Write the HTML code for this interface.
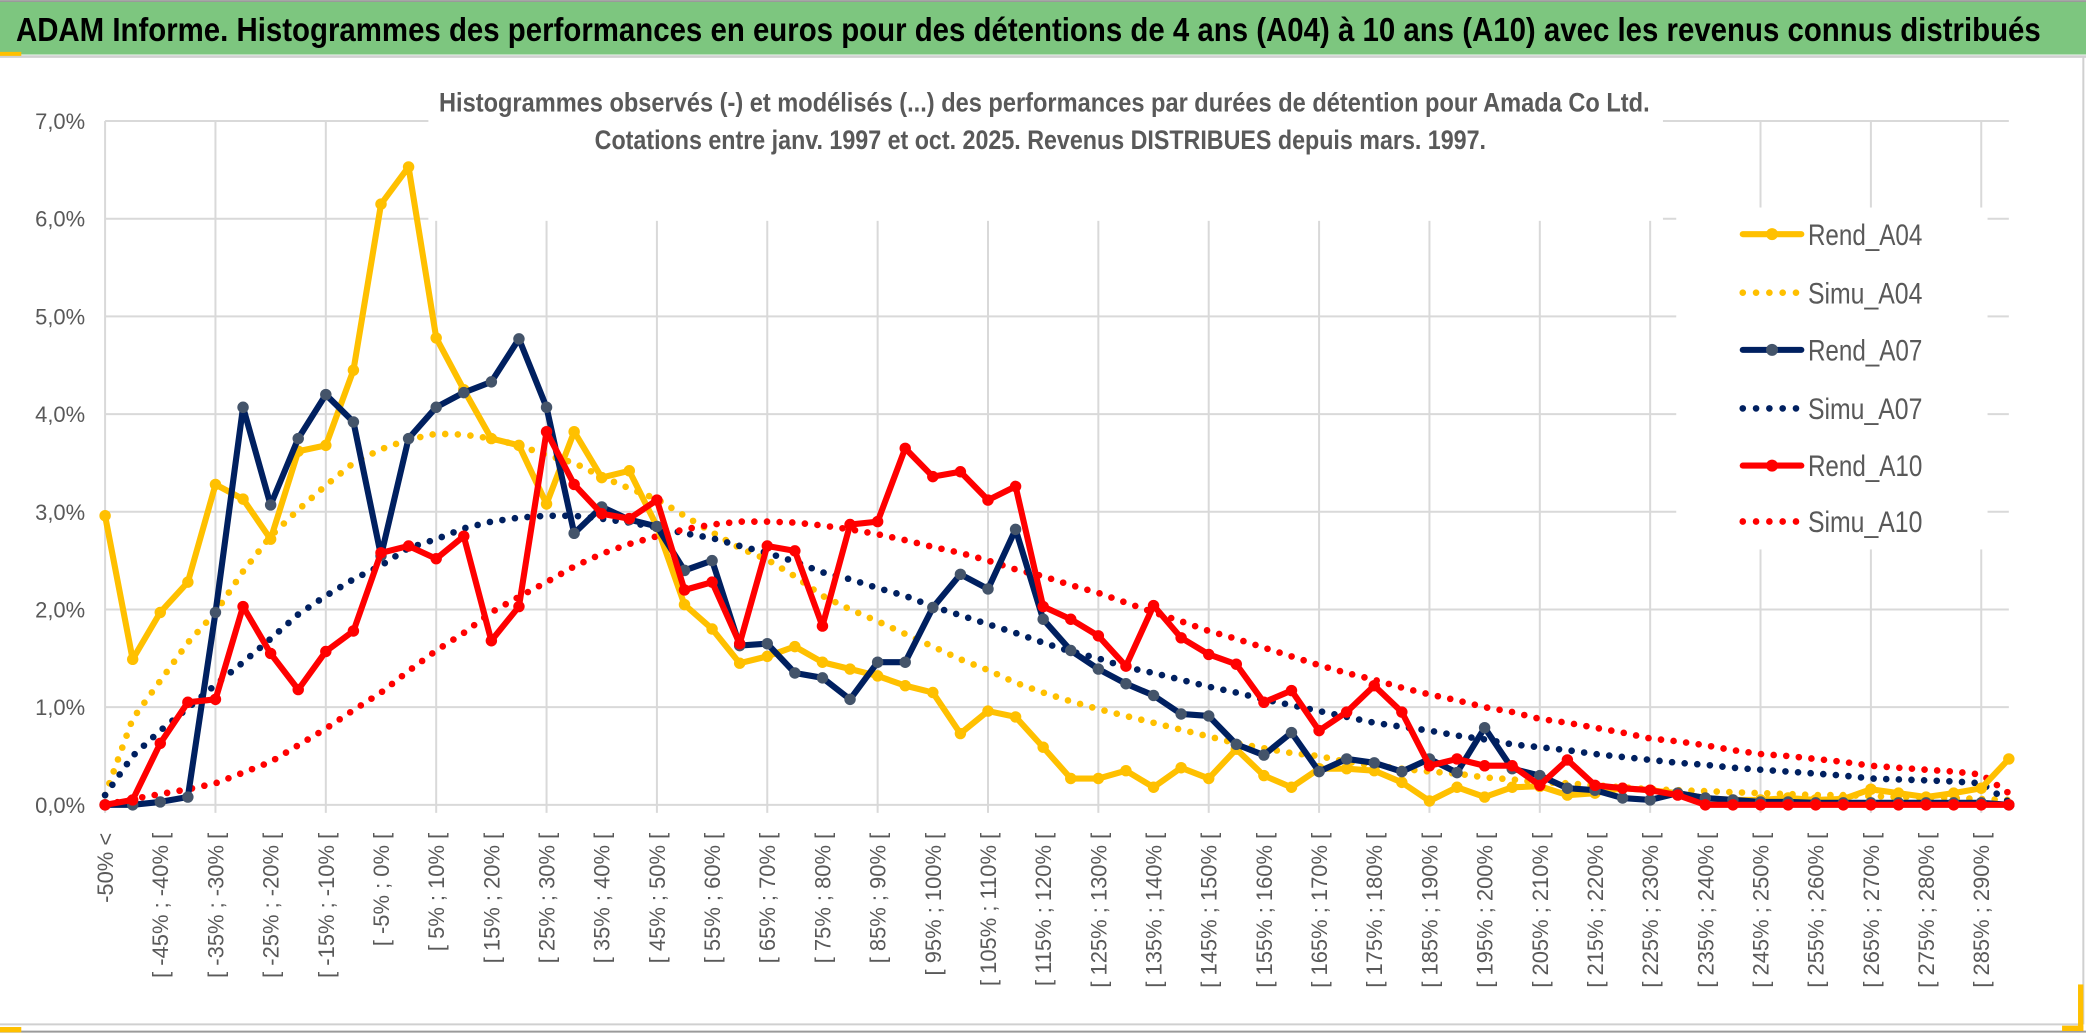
<!DOCTYPE html>
<html>
<head>
<meta charset="utf-8">
<style>
html,body{margin:0;padding:0;background:#fff;}
svg{display:block;}
text{font-family:"Liberation Sans",sans-serif;}
</style>
</head>
<body>
<svg id="chart" width="2086" height="1033" viewBox="0 0 1568 776.5" preserveAspectRatio="none" xmlns="http://www.w3.org/2000/svg">
  <rect x="0" y="0" width="1568" height="776.5" fill="#ffffff"/>
  <rect x="0" y="1" width="1568" height="40" fill="#7DC67F"/>
  <line x1="0" y1="0.8" x2="1568" y2="0.8" stroke="#9a9a9a" stroke-width="1.5"/>
  <line x1="0" y1="42.5" x2="1568" y2="42.5" stroke="#d0d0d0" stroke-width="2"/>
  <rect x="0" y="39" width="16" height="3" fill="#FFC000"/>
  <text x="12" y="31" font-size="25" font-weight="bold" fill="#000" textLength="1522" lengthAdjust="spacingAndGlyphs">ADAM Informe. Histogrammes des performances en euros pour des détentions de 4 ans (A04) à 10 ans (A10) avec les revenus connus distribués</text>
  <line x1="1566" y1="43" x2="1566" y2="770" stroke="#d0d0d0" stroke-width="1.5"/>
  <line x1="0" y1="770" x2="1566" y2="770" stroke="#d0d0d0" stroke-width="1.5"/>
  <line x1="0" y1="775.5" x2="1568" y2="775.5" stroke="#9a9a9a" stroke-width="1.5"/>
  <rect x="0" y="772" width="16" height="4" fill="#FFC000"/>
  <rect x="1562" y="740" width="4" height="35" fill="#FFC000"/>
  <rect x="1550" y="771" width="16" height="4" fill="#FFC000"/>
  <g id="grid"></g>
  <rect x="322" y="50" width="928" height="116" fill="#ffffff"/>
  <text x="785" y="84" font-size="20" font-weight="bold" fill="#595959" text-anchor="middle" textLength="910" lengthAdjust="spacingAndGlyphs">Histogrammes observés (-) et modélisés (...) des performances par durées de détention pour Amada Co Ltd.</text>
  <text x="782" y="112" font-size="20" font-weight="bold" fill="#595959" text-anchor="middle" textLength="670" lengthAdjust="spacingAndGlyphs">Cotations entre janv. 1997 et oct. 2025. Revenus DISTRIBUES depuis mars. 1997.</text>
  <g id="axes"></g>
  <g id="series"></g>
  <g id="legend"></g>
</svg>
<script>
const categories = ["-50% <"];
for (let k = -50; k <= 290; k += 5) categories.push("[ " + k + "% ; " + (k + 5) + "% [");
const yTicks = [0, 1, 2, 3, 4, 5, 6, 7];
const yTickLabels = ["0,0%", "1,0%", "2,0%", "3,0%", "4,0%", "5,0%", "6,0%", "7,0%"];
const seriesNames = ["Rend_A04", "Simu_A04", "Rend_A07", "Simu_A07", "Rend_A10", "Simu_A10"];
const rendA04 = [2.96,1.49,1.97,2.28,3.28,3.13,2.72,3.62,3.68,4.45,6.15,6.53,4.78,4.25,3.75,3.68,3.08,3.82,3.35,3.42,2.85,2.05,1.8,1.45,1.52,1.62,1.46,1.39,1.32,1.22,1.15,0.73,0.96,0.9,0.59,0.27,0.27,0.35,0.18,0.38,0.27,0.57,0.3,0.18,0.37,0.37,0.35,0.23,0.04,0.18,0.08,0.18,0.19,0.1,0.12,0.17,0.15,0.12,0.07,0.05,0.05,0.07,0.05,0.06,0.16,0.12,0.08,0.12,0.17,0.47];
const simuA04 = [0.1,0.88,1.27,1.66,1.97,2.39,2.75,3.02,3.27,3.5,3.64,3.74,3.8,3.79,3.75,3.68,3.58,3.5,3.36,3.24,3.13,2.96,2.79,2.63,2.51,2.34,2.14,2.0,1.88,1.75,1.62,1.49,1.38,1.25,1.15,1.06,0.98,0.91,0.84,0.77,0.7,0.63,0.58,0.53,0.5,0.44,0.4,0.37,0.34,0.32,0.28,0.26,0.23,0.22,0.2,0.18,0.16,0.15,0.14,0.13,0.12,0.11,0.1,0.1,0.09,0.08,0.08,0.07,0.06,0.05];
const rendA07 = [0,0,0.03,0.08,1.97,4.07,3.07,3.75,4.2,3.92,2.55,3.75,4.07,4.22,4.33,4.77,4.07,2.78,3.05,2.92,2.85,2.4,2.5,1.63,1.65,1.35,1.3,1.08,1.46,1.46,2.02,2.36,2.21,2.82,1.9,1.58,1.39,1.24,1.12,0.93,0.91,0.62,0.51,0.74,0.34,0.47,0.43,0.34,0.47,0.33,0.79,0.37,0.3,0.17,0.15,0.07,0.05,0.12,0.07,0.05,0.03,0.03,0.02,0.02,0.02,0.02,0.02,0.02,0.02,0];
const simuA07 = [0.1,0.5,0.76,0.99,1.23,1.46,1.7,1.95,2.14,2.31,2.45,2.63,2.72,2.83,2.9,2.94,2.96,2.96,2.93,2.89,2.84,2.78,2.73,2.65,2.58,2.49,2.38,2.31,2.22,2.14,2.03,1.94,1.85,1.76,1.66,1.57,1.5,1.41,1.35,1.28,1.21,1.15,1.08,1.02,0.96,0.9,0.84,0.8,0.76,0.71,0.67,0.62,0.59,0.56,0.52,0.49,0.46,0.43,0.41,0.38,0.36,0.34,0.32,0.3,0.27,0.26,0.25,0.24,0.22,0.03];
const rendA10 = [0,0.05,0.63,1.05,1.08,2.03,1.55,1.18,1.57,1.78,2.58,2.65,2.52,2.75,1.68,2.03,3.82,3.28,2.98,2.93,3.12,2.2,2.28,1.65,2.65,2.6,1.83,2.87,2.9,3.65,3.36,3.41,3.12,3.26,2.03,1.9,1.73,1.42,2.04,1.71,1.54,1.44,1.05,1.17,0.76,0.95,1.22,0.95,0.4,0.47,0.4,0.4,0.2,0.46,0.2,0.17,0.15,0.1,0,0,0,0,0,0,0,0,0,0,0,0];
const simuA10 = [0,0.06,0.11,0.16,0.22,0.33,0.44,0.61,0.78,0.97,1.15,1.37,1.58,1.76,1.97,2.13,2.28,2.44,2.57,2.67,2.75,2.82,2.87,2.9,2.9,2.89,2.86,2.82,2.77,2.71,2.64,2.58,2.5,2.41,2.34,2.25,2.17,2.07,1.97,1.88,1.78,1.7,1.61,1.52,1.43,1.35,1.28,1.2,1.13,1.07,1.0,0.95,0.88,0.84,0.79,0.74,0.68,0.65,0.61,0.56,0.52,0.5,0.47,0.44,0.4,0.38,0.36,0.34,0.31,0.12];

const NS = "http://www.w3.org/2000/svg";
const L = 79, R = 1510, T = 91, B = 605, yMax = 7;
const xPos = i => L + (R - L) * i / (categories.length - 1);
const yPos = v => B - (B - T) * v / yMax;
function mk(tag, attrs, parent) {
  const e = document.createElementNS(NS, tag);
  for (const k in attrs) e.setAttribute(k, attrs[k]);
  parent.appendChild(e);
  return e;
}
const grid = document.getElementById("grid");
const axes = document.getElementById("axes");
yTicks.forEach((t, i) => {
  const ln = mk("line", {x1: L, x2: R, y1: yPos(t), y2: yPos(t), stroke: "#D9D9D9", "stroke-width": 1.5}, grid);
  
  
  const tx = mk("text", {x: 64, y: yPos(t) + 6, "font-size": 16.5, fill: "#595959", "text-anchor": "end"}, axes);
  tx.textContent = yTickLabels[i];
  
  
});
for (let i = 0; i < categories.length; i += 4) {
  const ln = mk("line", {x1: xPos(i), x2: xPos(i), y1: T, y2: B + 6, stroke: "#D9D9D9", "stroke-width": 1.5}, grid);
  
  
}
for (let i = 0; i < categories.length; i += 2) {
  const x = xPos(i) + 6, y = 626;
  const tx = mk("text", {x: x, y: y, "font-size": 16.5, fill: "#595959", "text-anchor": "end", transform: "rotate(-90 " + x + " " + y + ")"}, axes);
  tx.textContent = categories[i];
  
  
}
const legendG = document.getElementById("legend");
const lbg = mk("rect", {x: 1260, y: 156, width: 234, height: 257, fill: "#fff"}, grid.parentNode);
grid.parentNode.insertBefore(lbg, document.getElementById("axes"));



const seriesG = document.getElementById("series");
const styles = [
  {data: rendA04, color: "#FFC000", marker: "#FFC000", dotted: false},
  {data: simuA04, color: "#FFC000", dotted: true},
  {data: rendA07, color: "#002060", marker: "#44546A", dotted: false},
  {data: simuA07, color: "#002060", dotted: true},
  {data: rendA10, color: "#FF0000", marker: "#FF0000", dotted: false},
  {data: simuA10, color: "#FF0000", dotted: true}
];
const drawOrder = [1, 3, 5, 0, 2, 4];
drawOrder.forEach(si => {
  const s = styles[si];
  const pts = s.data.map((v, i) => xPos(i).toFixed(1) + "," + yPos(v).toFixed(1)).join(" ");
  const g = mk("g", {}, seriesG);
  
  
  const pl = mk("polyline", {points: pts, fill: "none", stroke: s.color, "stroke-width": s.dotted ? 5 : 4.6, "stroke-linejoin": "round", "stroke-linecap": "round"}, g);
  if (s.dotted) pl.setAttribute("stroke-dasharray", "0 9.5");
  
  
  if (!s.dotted) {
    s.data.forEach((v, i) => {
      const c = mk("circle", {cx: xPos(i), cy: yPos(v), r: 4.3, fill: s.marker}, g);
      
      
    });
  }
});
const legY = [176, 220, 263, 307, 350, 392];
styles.forEach((s, i) => {
  const g = mk("g", {}, legendG);
  
  
  const y = legY[i];
  const ln = mk("line", {x1: 1310, x2: 1354, y1: y, y2: y, stroke: s.color, "stroke-width": s.dotted ? 5 : 4.6, "stroke-linecap": "round"}, g);
  if (s.dotted) ln.setAttribute("stroke-dasharray", "0 10");
  
  
  if (!s.dotted) {
    const c = mk("circle", {cx: 1332, cy: y, r: 4.5, fill: s.marker}, g);
    
    
  }
  const t = mk("text", {x: 1359, y: y + 8, "font-size": 22, fill: "#595959", textLength: 86, lengthAdjust: "spacingAndGlyphs"}, g);
  t.textContent = seriesNames[i];
  
  
});
</script>
</body>
</html>
